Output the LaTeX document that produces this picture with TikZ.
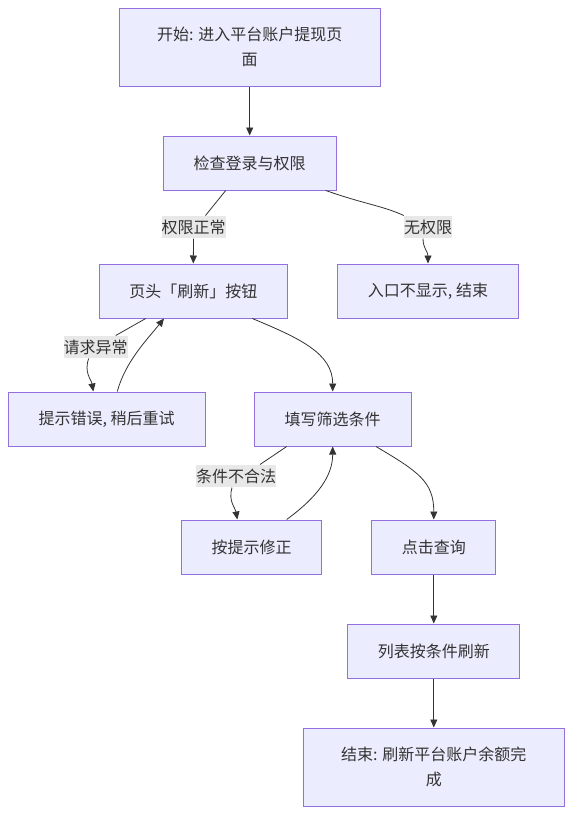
\documentclass[tikz,border=0pt]{standalone}
\usepackage{fontspec}
\setmainfont{Noto Sans CJK SC}
\usepackage{tikz}
\usepackage{xcolor}
\usetikzlibrary{arrows.meta}
\definecolor{boxfill}{HTML}{ECECFF}
\definecolor{boxline}{HTML}{9370DB}
\definecolor{lblfill}{HTML}{E8E8E8}
\definecolor{ink}{HTML}{333333}

\begin{document}
\begin{tikzpicture}[x=1pt,y=-1pt,
box/.style={draw=boxline,fill=boxfill,line width=1pt,text=ink,minimum height=54pt,inner sep=0pt,font=\fontsize{16}{25}\selectfont,align=center},
lbl/.style={fill=lblfill,text=ink,inner sep=0pt,minimum height=22.6pt,font=\fontsize{16}{20}\selectfont},
arr/.style={draw=ink,line width=0.8pt,-{Triangle[length=8pt,width=7pt]}},
ln/.style={draw=ink,line width=0.8pt}]
\useasboundingbox (0,0) rectangle (572,814);
\node (start) at (249.7,47)[box,minimum width=261pt,minimum height=78pt]{开始: 进入平台账户提现页\\面};
\node (check) at (249.7,163)[box,minimum width=173pt]{检查登录与权限};
\node (refresh) at (193.3,291)[box,minimum width=188pt]{页头「刷新」按钮};
\node (noperm) at (428,291)[box,minimum width=181pt]{入口不显示, 结束};
\node (error) at (106.6,419)[box,minimum width=197pt]{提示错误, 稍后重试};
\node (fill) at (332.7,419)[box,minimum width=157pt]{填写筛选条件};
\node (fix) at (251.7,547)[box,minimum width=140pt]{按提示修正};
\node (query) at (433.8,547)[box,minimum width=124pt]{点击查询};
\node (list) at (433.8,651)[box,minimum width=172pt]{列表按条件刷新};
\node (done) at (433.8,767)[box,minimum width=261pt,minimum height=78pt]{结束: 刷新平台账户余额完\\成};
\node (lblok) at (193.5,227)[lbl]{权限正常};
\node (lblno) at (428,227)[lbl]{无权限};
\node (lblerr) at (95.7,347)[lbl]{请求异常};
\node (lblbad) at (236,476)[lbl]{条件不合法};
\foreach \a/\b in {start/check,query/list,list/done}{
\draw[arr] (\a)--(\b);}
\draw[ln] ([xshift=-24pt]check.south)--([xshift=12pt]lblok.north);
\draw[arr] (lblok.south)--(refresh.north);
\draw[ln] ([xshift=76pt]check.south) .. controls +(40,14) and +(-22,-10) .. (lblno.north west);
\draw[arr] ([xshift=-5pt]lblno.south) .. controls +(0,10) and +(0,-12) .. (noperm.north);
\draw[ln] ([xshift=-47.6pt]refresh.south)--([xshift=20pt]lblerr.north);
\draw[arr] ([xshift=-7pt]lblerr.south) .. controls +(-5,14) and +(-2,-12) .. ([xshift=-13.3pt]error.north);
\draw[arr] ([xshift=10.7pt]error.north) .. controls +(8,-30) and +(-16,20) .. ([xshift=-29.3pt]refresh.south);
\draw[arr] ([xshift=59pt]refresh.south) .. controls +(48,20) and +(0,-38) .. (fill.north);
\draw[ln] ([xshift=-46pt]fill.south)--([xshift=24pt]lblbad.north);
\draw[arr] ([xshift=-4pt]lblbad.south) .. controls +(-4,14) and +(-2,-12) .. ([xshift=-14.4pt]fix.north);
\draw[arr] ([xshift=35pt]fix.north) .. controls +(30,-22) and +(0,30) .. (fill.south);
\draw[arr] ([xshift=43.3pt]fill.south) .. controls +(42,25) and +(0,-38) .. (query.north);
\end{tikzpicture}
\end{document}
